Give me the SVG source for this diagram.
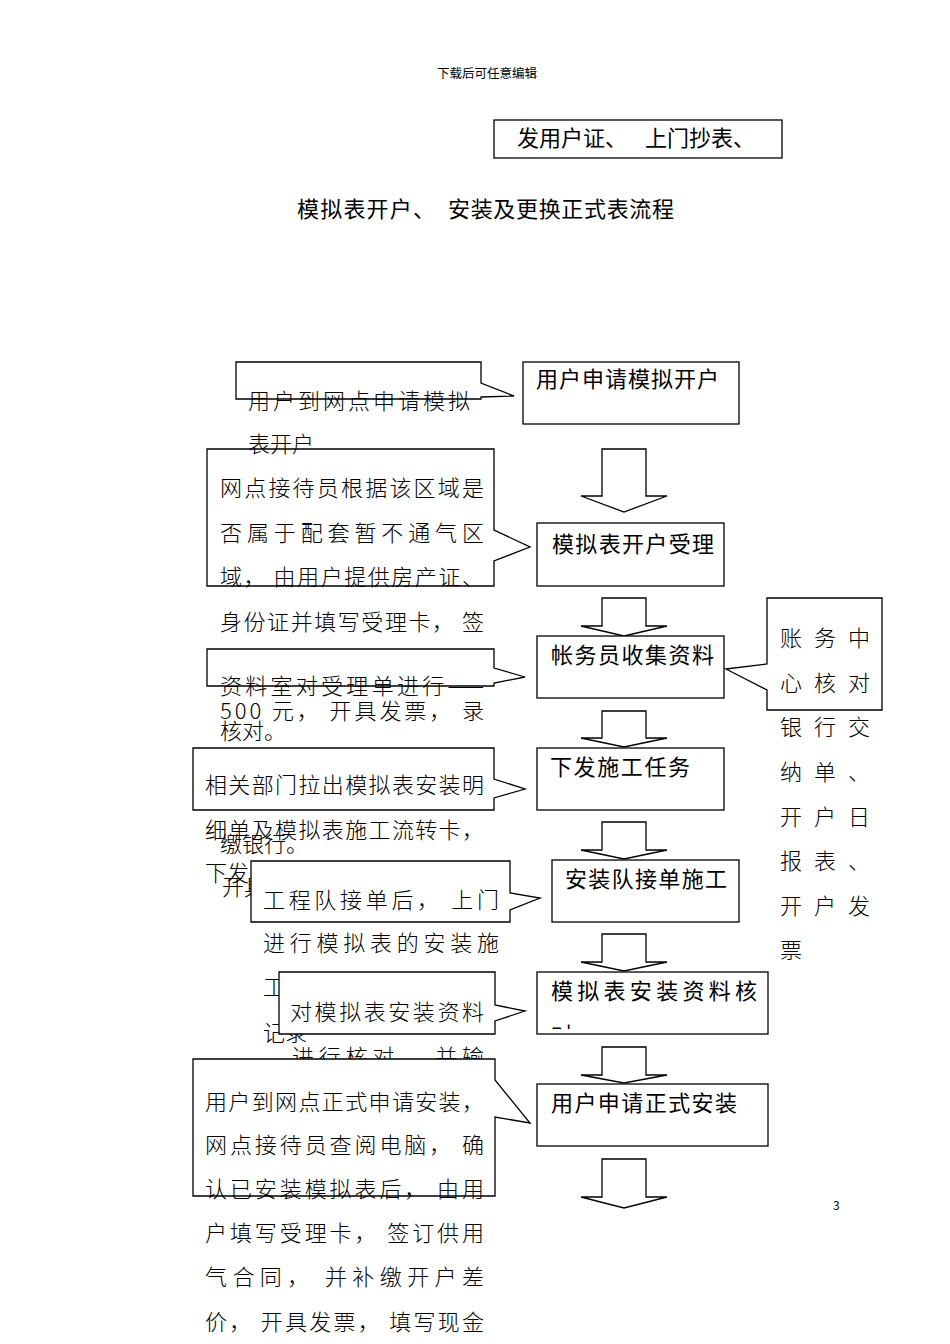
<svg xmlns="http://www.w3.org/2000/svg" width="950" height="1344" viewBox="0 0 950 1344">
<style>
.bg{fill:#fff}
.box{fill:#fff;stroke:#000;stroke-width:1.3}
.co{fill:#fff;stroke:#000;stroke-width:1.3;stroke-linejoin:miter}
.ar{fill:#fff;stroke:#000;stroke-width:1.3}
.t{font-family:"Noto Sans CJK SC","Liberation Sans",sans-serif;fill:#000}
.bt{font-size:22px;font-weight:400}
.ct{font-size:22px;font-weight:300}
</style>
<defs>
<clipPath id="clip6"><rect x="537" y="972" width="231" height="57"/></clipPath>
</defs>
<rect class="bg" x="0" y="0" width="950" height="1344"/>

<g id="header">
<text class="t" x="437" y="78" font-size="12.5">下载后可任意编辑</text>
<text class="t" x="833" y="1210" font-size="12" font-family="Liberation Sans">3</text>
</g>

<g id="title">
<rect class="box" x="494" y="120" width="288" height="38"/>
<text class="t" x="517" y="146" font-size="22" textLength="110" lengthAdjust="spacing">发用户证、</text>
<text class="t" x="645" y="146" font-size="22" textLength="110" lengthAdjust="spacing">上门抄表、</text>
<text class="t" x="297" y="217" font-size="22" textLength="138" lengthAdjust="spacing">模拟表开户、</text>
<text class="t" x="448" y="217" font-size="22" textLength="226" lengthAdjust="spacing">安装及更换正式表流程</text>
</g>

<g id="connectors">
<polygon class="ar" points="602,449 646,449 646,496 667,496 624,512 581,496 602,496"/>
<polygon class="ar" points="602,598 646,598 646,626 667,626 624,636 581,626 602,626"/>
<polygon class="ar" points="602,711 646,711 646,738 667,738 624,747 581,738 602,738"/>
<polygon class="ar" points="602,822 646,822 646,850 667,850 624,859 581,850 602,850"/>
<polygon class="ar" points="602,934 646,934 646,962 667,962 624,971 581,962 602,962"/>
<polygon class="ar" points="602,1047 646,1047 646,1075 667,1075 624,1083 581,1075 602,1075"/>
<polygon class="ar" points="602,1159 646,1159 646,1197 667,1197 624,1208 581,1197 602,1197"/>
</g>

<g id="n1"><rect class="box" x="523" y="362" width="216" height="62"/>
<text class="t bt" x="536" y="387" textLength="183" lengthAdjust="spacing">用户申请模拟开户</text></g>
<g id="n2"><rect class="box" x="537" y="523" width="187" height="63"/>
<text class="t bt" x="552" y="552" textLength="162" lengthAdjust="spacing">模拟表开户受理</text></g>
<g id="n3"><rect class="box" x="537" y="636" width="187" height="62"/>
<text class="t bt" x="551" y="663" textLength="163" lengthAdjust="spacing">帐务员收集资料</text></g>
<g id="n4"><rect class="box" x="537" y="748" width="187" height="62"/>
<text class="t bt" x="550" y="775" textLength="140" lengthAdjust="spacing">下发施工任务</text></g>
<g id="n5"><rect class="box" x="552" y="860" width="187" height="62"/>
<text class="t bt" x="565" y="887" textLength="162" lengthAdjust="spacing">安装队接单施工</text></g>
<g id="n6"><rect class="box" x="537" y="972" width="231" height="62"/>
<text class="t bt" x="551" y="999" textLength="206" lengthAdjust="spacing">模拟表安装资料核</text>
<text class="t bt" x="551" y="1043" clip-path="url(#clip6)">对</text></g>
<g id="n7"><rect class="box" x="537" y="1084" width="231" height="62"/>
<text class="t bt" x="551" y="1111" textLength="186" lengthAdjust="spacing">用户申请正式安装</text></g>

<g id="noteR">
<path class="co" d="M767,598 H882 V710 H767 V690 L726,669 L767,664 Z"/>
<text class="t ct" x="780 814 848" y="646">账务中</text>
<text class="t ct" x="780 814 848" y="691">心核对</text>
<text class="t ct" x="780 814 848" y="735">银行交</text>
<text class="t ct" x="780 814 848" y="780">纳单、</text>
<text class="t ct" x="780 814 848" y="825">开户日</text>
<text class="t ct" x="780 814 848" y="869">报表、</text>
<text class="t ct" x="780 814 848" y="914">开户发</text>
<text class="t ct" x="780" y="958">票</text>
</g>

<g id="noteB">
<path class="co" d="M207,449 H494 V530 L530,547 L494,561 V586 H207 Z"/>
<text class="t ct" x="220" y="496" textLength="264" lengthAdjust="spacing">网点接待员根据该区域是</text>
<text class="t ct" x="220" y="541" textLength="264" lengthAdjust="spacing">否属于配套暂不通气区</text>
<text class="t ct" x="220" y="585" textLength="264" lengthAdjust="spacing">域， 由用户提供房产证、</text>
<text class="t ct" x="220" y="630" textLength="264" lengthAdjust="spacing">身份证并填写受理卡， 签</text>
<text class="t ct" x="220" y="719" textLength="264" lengthAdjust="spacing">500 元， 开具发票， 录</text>
<text class="t ct" x="220" y="852">缴银行。</text>
<text class="t ct" x="222" y="895">开具</text>
</g>

<g id="noteA">
<path class="co" d="M236,362 H481 V383 L514,396 L481,397 V399 H236 Z"/>
<text class="t ct" x="248" y="409" textLength="222" lengthAdjust="spacing">用户到网点申请模拟</text>
<text class="t ct" x="248" y="452">表开户</text>
</g>

<g id="noteC">
<path class="co" d="M207,649 H494 V668 L525,677 L494,683 V686 H207 Z"/>
<text class="t ct" x="220" y="694" textLength="264" lengthAdjust="spacing">资料室对受理单进行——</text>
<text class="t ct" x="220" y="739">核对。</text>
</g>

<g id="noteD">
<path class="co" d="M193,748 H494 V779 L525,789 L494,798 V810 H193 Z"/>
<text class="t ct" x="205" y="793" textLength="279" lengthAdjust="spacing">相关部门拉出模拟表安装明</text>
<text class="t ct" x="205" y="838" textLength="279" lengthAdjust="spacing">细单及模拟表施工流转卡，</text>
<text class="t ct" x="205" y="881">下发</text>
</g>

<g id="noteE">
<path class="co" d="M251,861 H510 V893 L540,898 L510,910 V922 H251 Z"/>
<text class="t ct" x="263" y="908" textLength="236" lengthAdjust="spacing">工程队接单后， 上门</text>
<text class="t ct" x="263" y="951" textLength="236" lengthAdjust="spacing">进行模拟表的安装施</text>
<text class="t ct" x="263" y="995">工</text>
<text class="t ct" x="263" y="1041">记录</text>
</g>

<g id="noteF">
<path class="co" d="M279,972 H495 V1005 L525,1011 L495,1021 V1034 H279 Z"/>
<text class="t ct" x="290" y="1020" textLength="194" lengthAdjust="spacing">对模拟表安装资料</text>
<text class="t ct" x="292" y="1065" textLength="192" lengthAdjust="spacing">进行核对， 并输</text>
</g>

<g id="noteG">
<path class="co" d="M193,1059 H495 V1080 L530,1123 L495,1117 V1196 H193 Z"/>
<text class="t ct" x="205" y="1110" textLength="279" lengthAdjust="spacing">用户到网点正式申请安装，</text>
<text class="t ct" x="205" y="1153" textLength="279" lengthAdjust="spacing">网点接待员查阅电脑， 确</text>
<text class="t ct" x="205" y="1197" textLength="279" lengthAdjust="spacing">认已安装模拟表后， 由用</text>
<text class="t ct" x="205" y="1241" textLength="279" lengthAdjust="spacing">户填写受理卡， 签订供用</text>
<text class="t ct" x="205" y="1285" textLength="279" lengthAdjust="spacing">气合同， 并补缴开户差</text>
<text class="t ct" x="205" y="1330" textLength="279" lengthAdjust="spacing">价， 开具发票， 填写现金</text>
</g>
</svg>
